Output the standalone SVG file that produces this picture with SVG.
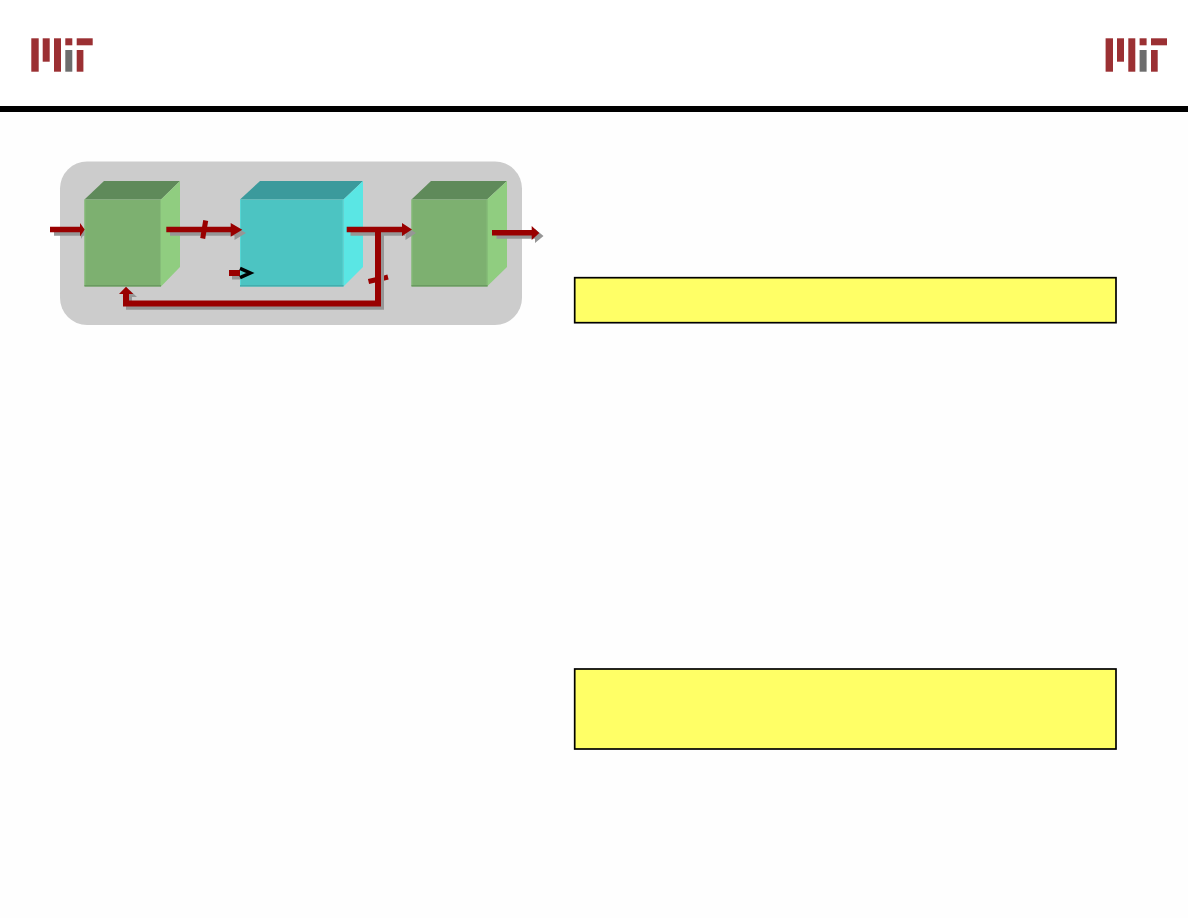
<svg xmlns="http://www.w3.org/2000/svg" width="1188" height="918" viewBox="0 0 1188 918">
<style>
.red{fill:#9b3033}.gr{fill:#6d6d6d}
.gtop{fill:#5f8a5a}.gfront{fill:#7db070}.gside{fill:#90cd80}
.gedge{fill:none;stroke:#86bd79;stroke-width:1}.gbase{fill:none;stroke:#6a9a60;stroke-width:1.500}
.ctop{fill:#3b9a9c}.cfront{fill:#4cc4c2}.cside{fill:#5ae6e4}
.cedge{fill:none;stroke:#55d6d4;stroke-width:1}.cbase{fill:none;stroke:#42aeae;stroke-width:1.500}
.note{fill:#ffff66;stroke:#000;stroke-width:1.700}
.w{fill:none;stroke:#990000}.ws{fill:none;stroke:#969696}.hd{fill:#990000}.hs{fill:#969696}
</style>
<defs>
<g id="logo">
<rect class="red" x="31.300" y="38.300" width="7.400" height="33.400"/>
<rect class="red" x="42.700" y="38.300" width="7" height="23.400"/>
<rect class="red" x="54" y="38.300" width="7" height="33.400"/>
<rect class="red" x="65.300" y="38.300" width="7" height="7"/>
<rect class="gr" x="65.300" y="50" width="7" height="21.700"/>
<rect class="red" x="76.700" y="38.300" width="16" height="7"/>
<rect class="red" x="76.700" y="50" width="6.700" height="21.700"/>
</g>
</defs>
<rect width="1188" height="918" fill="#fefefe"/>
<rect y="0" width="1188" height="106" fill="#fff"/>
<use href="#logo" id="logo-left"/>
<use href="#logo" id="logo-right" x="1074.300"/>
<rect id="rule" x="0" y="106" width="1188" height="6" fill="#000"/>
<rect id="panel" x="60" y="161.500" width="462" height="163.500" rx="27" fill="#cccccc"/>
<g id="block-left">
<polygon class="gtop" points="84.500,199.500 104,181 180,181 161,199.500"/>
<polygon class="gside" points="161,199.500 180,181 180,267 161,286.500"/>
<rect class="gfront" x="84.500" y="199.500" width="76.500" height="87"/>
<path class="gedge" d="M85,199.500V286M160.500,199.500V286"/>
<path class="gbase" d="M84.500,285.800H161"/>
</g>
<g id="block-middle">
<polygon class="ctop" points="240,199.500 260,181 363,181 343.500,199.500"/>
<polygon class="cside" points="343.500,199.500 363,181 363,267 343.500,286.500"/>
<rect class="cfront" x="240" y="199.500" width="103.500" height="87"/>
<path class="cedge" d="M240.500,199.500V286M343,199.500V286"/>
<path class="cbase" d="M240,285.800H343.500"/>
</g>
<g id="block-right">
<polygon class="gtop" points="411.500,199.500 431,181 507,181 487,199.500"/>
<polygon class="gside" points="487,199.500 507,181 507,267 487,286.500"/>
<rect class="gfront" x="411.500" y="199.500" width="76" height="87"/>
<path class="gedge" d="M412,199.500V286M487,199.500V286"/>
<path class="gbase" d="M411.500,285.800H487.500"/>
</g>
<g id="connectors">
<path class="w" stroke-width="5" d="M368.500,281.500L377,279.500M383,278.300L388,277"/>
<g id="shadows">
<path class="ws" stroke-width="5.500" d="M54,233H84.500M170,233H236M350.500,233H405M496.500,236H535"/>
<path class="ws" stroke-width="6" d="M381,234V306.700H129V296"/>
<path class="ws" stroke-width="4" d="M232,277.500H240"/>
<path class="hs" d="M81,227L84.500,233L81,239ZM234.500,226.500L246,233L234.500,240ZM405.500,226.500L416,233L405.500,240ZM535,229L543.500,236L535,243ZM122.500,297L129.500,290L137,297Z"/>
</g>
<path class="w" stroke-width="5.500" d="M50,229.500H81M166.300,229.500H232M346.700,229.500H403M492,232.800H532"/>
<path class="w" stroke-width="6" d="M378,230V303.500H126V292"/>
<path class="hd" d="M80,223L84.700,229.500L80,236.500ZM230.700,223L242.300,229.800L230.700,236.700ZM402,223L412,229.500L402,236ZM531.700,226L539.300,233L531.700,240ZM119,294L126,286.700L133.300,294Z"/>
<path class="w" stroke-width="5" d="M205.700,220.500L202.700,238.500"/>
<path class="w" stroke-width="6" d="M229,273H240"/>
<path fill="none" stroke="#000" stroke-width="3.500" d="M240,268.300L250.300,273L240,277.700"/>
</g>
<rect id="note-1" class="note" x="574.700" y="277.700" width="541.300" height="45"/>
<rect id="note-2" class="note" x="574.700" y="669" width="541.300" height="80"/>
</svg>
